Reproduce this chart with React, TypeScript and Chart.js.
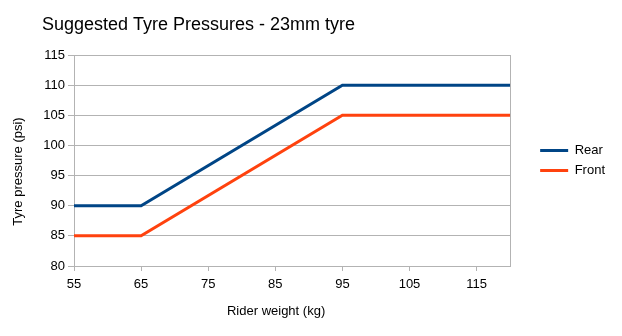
import React, { useEffect, useRef } from 'react';
import { Chart, registerables } from 'chart.js';

Chart.register(...registerables);

// ---- data ----
const weights = [55, 65, 95, 120];
const rearPressure = [90, 90, 110, 110];
const frontPressure = [85, 85, 105, 105];
const xTickValues = [55, 65, 75, 85, 95, 105, 115];
const yMin = 80;
const yMax = 115;
const yStep = 5;
const xMin = 55;
const xMax = 120;
const seriesNames = ['Rear', 'Front'];
const seriesColors = ['#004586', '#ff420e'];
const titleText = 'Suggested Tyre Pressures - 23mm tyre';
const xTitle = 'Rider weight (kg)';
const yTitle = 'Tyre pressure (psi)';

const FONT = '"Liberation Sans", Arial, sans-serif';
const GRID = '#b3b3b3';

const axisTitles = {
  id: 'axisTitles',
  afterDraw(chart: any) {
    const { ctx, chartArea, scales } = chart;
    ctx.save();
    ctx.fillStyle = '#000';
    ctx.font = `13px ${FONT}`;
    ctx.textAlign = 'center';
    ctx.textBaseline = 'middle';
    ctx.fillText(xTitle, (scales.y.left + chartArea.right) / 2, 311);
    ctx.translate(18, (chartArea.top + chartArea.bottom + 22) / 2);
    ctx.rotate(-Math.PI / 2);
    ctx.fillText(yTitle, 0, 0);
    ctx.restore();
  },
};

export default function App() {
  const ref = useRef<HTMLCanvasElement>(null);
  useEffect(() => {
    document.body.style.margin = '0';
    const toPts = (ys: number[]) => weights.map((x, i) => ({ x, y: ys[i] }));
    const chart = new Chart(ref.current!, {
      type: 'line',
      data: {
        datasets: [
          {
            label: seriesNames[0],
            data: toPts(rearPressure),
            borderColor: seriesColors[0],
            backgroundColor: seriesColors[0],
            borderWidth: 3,
            pointRadius: 0,
            pointStyle: 'line',
            tension: 0,
          },
          {
            label: seriesNames[1],
            data: toPts(frontPressure),
            borderColor: seriesColors[1],
            backgroundColor: seriesColors[1],
            borderWidth: 3,
            pointRadius: 0,
            pointStyle: 'line',
            tension: 0,
          },
        ],
      },
      options: {
        animation: false,
        responsive: true,
        maintainAspectRatio: false,
        layout: { padding: { left: 42, right: 7, top: 0, bottom: 0 } },
        plugins: {
          title: {
            display: true,
            text: titleText,
            align: 'start',
            color: '#000',
            font: { family: FONT, size: 18, weight: 'normal', lineHeight: 1.2 },
            padding: { top: 14, bottom: 19.4 },
          },
          legend: {
            position: 'right',
            fullSize: false,
            labels: {
              usePointStyle: true,
              pointStyle: 'line',
              pointStyleWidth: 28,
              boxWidth: 28,
              boxHeight: 13,
              padding: 7,
              color: '#000',
              font: { family: FONT, size: 13 },
            },
          },
          tooltip: { enabled: false },
        },
        scales: {
          x: {
            type: 'linear',
            min: xMin,
            max: xMax,
            afterBuildTicks: (scale: any) => {
              scale.ticks = xTickValues.map((v) => ({ value: v }));
            },
            afterFit: (scale: any) => {
              scale.height = 70;
            },
            grid: { color: 'transparent', tickColor: GRID, tickLength: 5, drawTicks: true },
            border: { color: GRID, width: 1 },
            ticks: {
              color: '#000',
              padding: 6,
              maxRotation: 0,
              autoSkip: false,
              font: { family: FONT, size: 13 },
              callback: (v: any) => String(v),
            },
          },
          y: {
            type: 'linear',
            min: yMin,
            max: yMax,
            afterFit: (scale: any) => {
              scale.width = 32;
            },
            grid: { color: GRID, tickColor: GRID, tickLength: 6 },
            border: { color: GRID, width: 1 },
            ticks: {
              stepSize: yStep,
              color: '#000',
              padding: 3,
              font: { family: FONT, size: 13 },
            },
          },
          yRight: {
            type: 'linear',
            position: 'right',
            min: yMin,
            max: yMax,
            afterFit: (scale: any) => {
              scale.width = 23;
            },
            grid: { display: false },
            ticks: { display: false },
            border: { color: GRID, width: 1 },
          },
        },
      },
      plugins: [axisTitles],
    });
    return () => chart.destroy();
  }, []);
  return (
    <div style={{ width: 622, height: 336, position: 'relative' }}>
      <canvas ref={ref} />
    </div>
  );
}
